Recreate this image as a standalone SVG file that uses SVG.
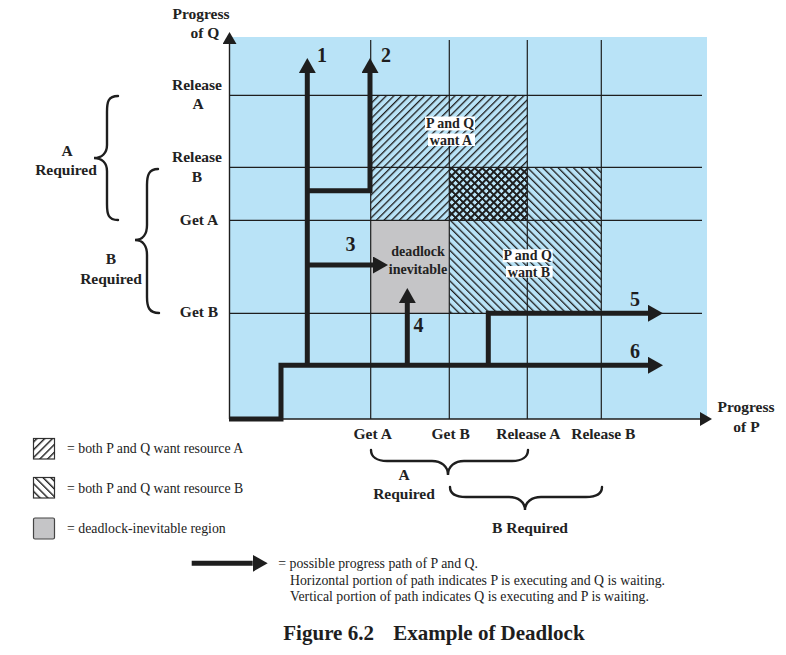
<svg xmlns="http://www.w3.org/2000/svg" width="786" height="655" viewBox="0 0 786 655">
<style>
.bg{fill:#b9e3f7}
.grid{stroke:#1e1e1e;stroke-width:1.2;fill:none}
.axis{stroke:#1e1e1e;stroke-width:1.4;fill:none}
.path{stroke:#1e1e1e;stroke-width:5;fill:none;stroke-linejoin:miter;stroke-linecap:butt}
.brace{stroke:#1e1e1e;stroke-width:2.4;fill:none;stroke-linecap:round}
.lbl{font-family:"Liberation Serif",serif;font-weight:bold;font-size:15.5px;fill:#222;text-anchor:middle}
.num{font-family:"Liberation Serif",serif;font-weight:bold;font-size:20px;fill:#1e1e1e;text-anchor:middle}
.cell{font-family:"Liberation Serif",serif;font-weight:bold;font-size:14px;fill:#222;text-anchor:middle}
.leg{font-family:"Liberation Serif",serif;font-size:13.8px;fill:#222}
.title{font-family:"Liberation Serif",serif;font-weight:bold;font-size:21px;fill:#1e1e1e}
.wbox{fill:#ffffff}
</style>
<defs>
<pattern id="hatchA" patternUnits="userSpaceOnUse" width="5.4" height="5.4" patternTransform="rotate(45)">
<rect x="0" y="0" width="1.3" height="5.4" fill="#1e1e1e"/>
</pattern>
<pattern id="hatchB" patternUnits="userSpaceOnUse" width="5.4" height="5.4" patternTransform="rotate(-45)">
<rect x="0" y="0" width="1.3" height="5.4" fill="#1e1e1e"/>
</pattern>
<pattern id="crossA" patternUnits="userSpaceOnUse" width="5.4" height="5.4" patternTransform="rotate(45)">
<rect x="0" y="0" width="1.7" height="5.4" fill="#1e1e1e"/>
</pattern>
<pattern id="crossB" patternUnits="userSpaceOnUse" width="5.4" height="5.4" patternTransform="rotate(-45)">
<rect x="0" y="0" width="1.7" height="5.4" fill="#1e1e1e"/>
</pattern>
<pattern id="legA" patternUnits="userSpaceOnUse" width="5.5" height="5.5" patternTransform="rotate(45)">
<rect x="0" y="0" width="1.4" height="5.5" fill="#1e1e1e"/>
</pattern>
<pattern id="legB" patternUnits="userSpaceOnUse" width="5.5" height="5.5" patternTransform="rotate(-45)">
<rect x="0" y="0" width="1.4" height="5.5" fill="#1e1e1e"/>
</pattern>
<marker id="arrow" markerUnits="userSpaceOnUse" markerWidth="16" markerHeight="18" refX="0" refY="8.5" orient="auto">
<path d="M0,0 L15,8.5 L0,17 Z" fill="#1e1e1e"/>
</marker>
<marker id="axarrow" markerUnits="userSpaceOnUse" markerWidth="13" markerHeight="15" refX="0" refY="7" orient="auto">
<path d="M0,0 L12,7 L0,14 Z" fill="#1e1e1e"/>
</marker>
</defs>

<g id="plane">
<rect class="bg" x="229" y="37" width="478" height="382"/>
<rect x="370.7" y="95.3" width="156.6" height="125" fill="url(#hatchA)"/>
<rect x="449.3" y="167.3" width="152" height="146" fill="url(#hatchB)"/>
<rect x="449.3" y="167.3" width="78" height="53" fill="url(#crossA)"/>
<rect x="449.3" y="167.3" width="78" height="53" fill="url(#crossB)"/>
<rect x="370.7" y="220.3" width="78.6" height="93" fill="#c5c5c7"/>
</g>

<g id="grid">
<path class="grid" d="M229,95.3H702M229,167.3H702M229,220.3H702M229,313.3H702"/>
<path class="grid" d="M370.7,40V419M449.3,40V419M527.3,40V419M601.3,40V419"/>
</g>

<g id="axes">
<path class="axis" d="M229.5,419V44" marker-end="url(#axarrow)"/>
<path class="axis" d="M229,419H700" marker-end="url(#axarrow)"/>
</g>

<g id="connectors">
<path id="path6" class="path" d="M229,419H281V365.3H648"  marker-end="url(#arrow)"/>
<path id="path1" class="path" d="M307.3,365.3V73" marker-end="url(#arrow)"/>
<path id="path2" class="path" d="M307.3,190.7H370V73" marker-end="url(#arrow)"/>
<path id="path3" class="path" d="M307.3,265H373" marker-end="url(#arrow)"/>
<path id="path4" class="path" d="M407.3,365.3V303" marker-end="url(#arrow)"/>
<path id="path5" class="path" d="M488.3,365.3V313.3H648" marker-end="url(#arrow)"/>
</g>

<g id="path-labels">
<text class="num" x="322" y="62">1</text>
<text class="num" x="386" y="62">2</text>
<text class="num" x="350.5" y="251">3</text>
<text class="num" x="418.5" y="332">4</text>
<text class="num" x="635" y="306">5</text>
<text class="num" x="635" y="358">6</text>
</g>

<g id="region-want-A">
<rect class="wbox" x="425" y="116.5" width="50" height="14"/>
<rect class="wbox" x="428" y="133.5" width="47" height="12.5"/>
<text class="cell" x="450" y="128">P and Q</text>
<text class="cell" x="451" y="144.5">want A</text>
</g>
<g id="region-want-B">
<rect class="wbox" x="502.7" y="249.3" width="50" height="13"/>
<rect class="wbox" x="506" y="266" width="46.7" height="11.5"/>
<text class="cell" x="527.7" y="259.7">P and Q</text>
<text class="cell" x="529" y="276.8">want B</text>
</g>
<g id="region-deadlock">
<text class="cell" x="418" y="256.4">deadlock</text>
<text class="cell" x="418" y="274">inevitable</text>
</g>

<g id="q-axis-labels">
<text class="lbl" x="201" y="19">Progress</text>
<text class="lbl" x="205" y="38">of Q</text>
<text class="lbl" x="197" y="90">Release</text>
<text class="lbl" x="198" y="109">A</text>
<text class="lbl" x="197" y="162">Release</text>
<text class="lbl" x="197" y="182">B</text>
<text class="lbl" x="199" y="225">Get A</text>
<text class="lbl" x="199" y="317">Get B</text>
</g>

<g id="q-braces">
<path class="brace" d="M118,96 C108,96 107,102 107,112 L107,145 C107,153 102,158 94,158 C102,158 107,163 107,171 L107,204 C107,214 108,220 118,220"/>
<path class="brace" d="M158,169 C149,169 147,175 147,185 L147,225 C147,234 143,240 135,240 C143,240 147,246 147,255 L147,297 C147,307 149,313 159,313"/>
<text class="lbl" x="67" y="156">A</text>
<text class="lbl" x="66" y="175">Required</text>
<text class="lbl" x="111" y="264">B</text>
<text class="lbl" x="111" y="284">Required</text>
</g>

<g id="p-axis-labels">
<text class="lbl" x="372.7" y="439">Get A</text>
<text class="lbl" x="450.7" y="439">Get B</text>
<text class="lbl" x="528.3" y="439">Release A</text>
<text class="lbl" x="603.3" y="439">Release B</text>
<text class="lbl" x="746" y="412">Progress</text>
<text class="lbl" x="746.5" y="432">of P</text>
</g>

<g id="p-braces">
<path class="brace" d="M371,450 C371,457 377,461 387,461 L432,461 C441,461 448,466 448,475 C448,466 455,461 464,461 L512,461 C522,461 528,457 528,450"/>
<path class="brace" d="M450,487 C450,494 456,497 466,497 L509,497 C518,497 525,502 525,510 C525,502 532,497 541,497 L586,497 C596,497 602,494 602,487"/>
<text class="lbl" x="404" y="480">A</text>
<text class="lbl" x="404" y="499">Required</text>
<text class="lbl" x="530" y="533">B Required</text>
</g>

<g id="legend">
<rect x="33.5" y="438.5" width="21" height="20.5" fill="#ffffff" stroke="#333" stroke-width="1.2"/>
<rect x="33.5" y="438.5" width="21" height="20.5" fill="url(#legA)"/>
<text class="leg" x="67" y="453">= both P and Q want resource A</text>
<rect x="33.5" y="477.5" width="21" height="20.5" fill="#ffffff" stroke="#333" stroke-width="1.2"/>
<rect x="33.5" y="477.5" width="21" height="20.5" fill="url(#legB)"/>
<text class="leg" x="67" y="492.5">= both P and Q want resource B</text>
<rect x="33.5" y="518" width="21" height="21" rx="1.5" fill="#c5c5c7" stroke="#444" stroke-width="1.2"/>
<text class="leg" x="67" y="533">= deadlock-inevitable region</text>
<path class="path" d="M191.7,563.3H252.7" marker-end="url(#arrow)"/>
<text class="leg" x="278.3" y="568">= possible progress path of P and Q.</text>
<text class="leg" x="290" y="584.5">Horizontal portion of path indicates P is executing and Q is waiting.</text>
<text class="leg" x="290" y="601">Vertical portion of path indicates Q is executing and P is waiting.</text>
</g>

<g id="caption">
<text class="title" x="283.3" y="640">Figure 6.2</text>
<text class="title" x="393.3" y="640">Example of Deadlock</text>
</g>
</svg>
